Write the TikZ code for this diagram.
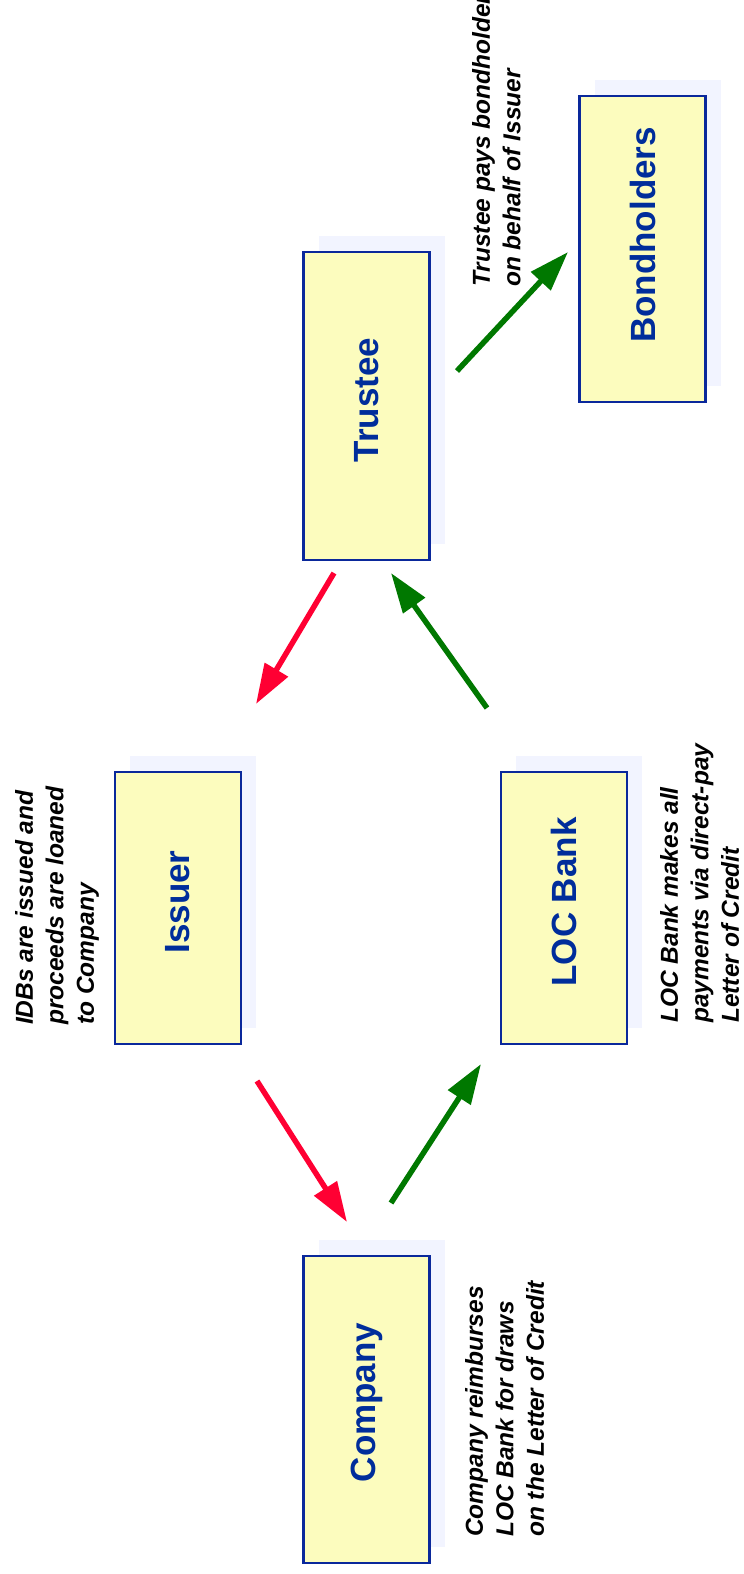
\documentclass[tikz,border=0pt]{standalone}
\usepackage{fontspec}
\setmainfont{Liberation Sans}
\usetikzlibrary{arrows.meta,shadows}
\definecolor{boxfill}{RGB}{252,252,190}
\definecolor{boxline}{RGB}{10,40,155}
\definecolor{boxtext}{RGB}{0,45,155}
\definecolor{shadowc}{RGB}{242,244,255}
\definecolor{redarrow}{RGB}{255,0,51}
\definecolor{greenarrow}{RGB}{0,120,0}
\newcommand{\plabel}[2]{\rotatebox{90}{\hspace*{#1}#2}}
\tikzset{
  party/.style={draw=boxline, line width=2.5pt, fill=boxfill, inner sep=0pt,
    minimum width=126pt, text=boxtext,
    font=\fontsize{35}{40}\selectfont\bfseries,
    general shadow={fill=shadowc, shadow xshift=15pt, shadow yshift=16pt}},
  note/.style={rotate=90, anchor=north west, align=left, inner sep=0pt,
    font=\fontsize{24.5}{30.5}\selectfont\bfseries\itshape},
  flowred/.style={draw=redarrow, line width=5.5pt, -{Triangle[length=40pt,width=26pt]}},
  flowgreen/.style={draw=greenarrow, line width=5.5pt, -{Triangle[length=40pt,width=26pt]}}
}
\begin{document}
\begin{tikzpicture}[x=1pt,y=-1pt]
\clip (0,0) rectangle (744,1574);
\fill[white] (0,0) rectangle (744,1574);

\node[party, minimum height=306pt] (bond) at (642.5,249) {\plabel{28pt}{Bondholders}};
\node[party, minimum height=308pt] (trustee) at (366.5,406) {\plabel{12pt}{Trustee}};
\node[party, minimum height=272pt] (issuer) at (178,908) {\plabel{12pt}{Issuer}};
\node[party, minimum height=272pt] (locbank) at (564,908) {\plabel{12pt}{LOC Bank}};
\node[party, minimum height=307pt] (company) at (366.5,1409.5) {\plabel{14pt}{Company}};

\node[note] (n1) at (472,287) {Trustee pays bondholders\\on behalf of Issuer};
\node[note] (n2) at (15,1025) {IDBs are issued and\\proceeds are loaned\\to Company};
\node[note] (n3) at (660,1023) {LOC Bank makes all\\payments via direct-pay\\Letter of Credit};
\node[note] (n4) at (465,1537) {Company reimburses\\LOC Bank for draws\\on the Letter of Credit};

\coordinate (tbA) at (457,371);
\coordinate (tbB) at (568,252);
\coordinate (tiA) at (334,573);
\coordinate (tiB) at (256,704);
\coordinate (ltA) at (487,708);
\coordinate (ltB) at (391,573);
\coordinate (icA) at (257,1081);
\coordinate (icB) at (347,1222);
\coordinate (clA) at (391,1203);
\coordinate (clB) at (481,1064);

\draw[flowgreen] (tbA) -- (tbB);
\draw[flowred] (tiA) -- (tiB);
\draw[flowgreen] (ltA) -- (ltB);
\draw[flowred] (icA) -- (icB);
\draw[flowgreen] (clA) -- (clB);
\end{tikzpicture}
\end{document}
